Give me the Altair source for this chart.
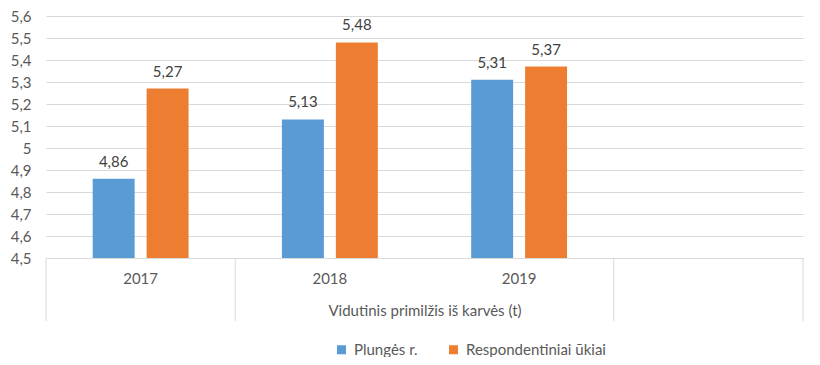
import altair as alt
import pandas as pd

years = ["2017", "2018", "2019"]
slots = ["2017", "2018", "2019", " "]
series = ["Plungės r.", "Respondentiniai ūkiai"]
plunges = [4.86, 5.13, 5.31]
respond = [5.27, 5.48, 5.37]
y_ticks = [4.5, 4.6, 4.7, 4.8, 4.9, 5.0, 5.1, 5.2, 5.3, 5.4, 5.5, 5.6]
axis_title = "Vidutinis primilžis iš karvės (t)"
colors = ["#5B9BD5", "#ED7D31"]
separator_left = ["2017", "2018", " "]
separator_right = [" "]

rows = []
for i, yr in enumerate(years):
    rows.append({"year": yr, "series": series[0], "value": plunges[i]})
    rows.append({"year": yr, "series": series[1], "value": respond[i]})
df = pd.DataFrame(rows)
df["label"] = df["value"].map(lambda v: f"{v:.2f}".replace(".", ","))

W, H = 757, 242
FONT = "Lato"
FS = 15
AX = "#595959"
GRID = "#D9D9D9"

xscale = alt.Scale(domain=slots, paddingInner=0, paddingOuter=0)
xoff = alt.Scale(domain=series, paddingInner=0.2222, paddingOuter=0.8656)
yscale = alt.Scale(domain=[4.5, 5.6], nice=False, zero=False)

x_axis = alt.Axis(title=axis_title, ticks=False, domain=True, domainColor=GRID,
                  domainWidth=1, labelAngle=0, labelPadding=13, labelFont=FONT,
                  labelFontSize=FS, labelColor=AX, titleFont=FONT, titleFontSize=FS,
                  titleColor=AX, titleFontWeight="normal", titleY=52,
                  titleBaseline="middle", grid=False)
y_axis = alt.Axis(title=None, values=y_ticks, ticks=False, domain=False,
                  grid=True, gridColor=GRID, gridWidth=1, labelPadding=15,
                  labelFont=FONT, labelFontSize=FS, labelColor=AX,
                  labelExpr="replace(toString(round(datum.value*10)/10), '.', ',')")

x_enc = alt.X("year:N", scale=xscale, axis=x_axis, sort=slots)
y_enc = alt.Y("value:Q", scale=yscale, axis=y_axis)
xo_enc = alt.XOffset("series:N", scale=xoff, sort=series)

base = alt.Chart(df)

bars = base.mark_bar().encode(
    x=x_enc,
    xOffset=xo_enc,
    y=y_enc,
    y2=alt.datum(4.5),
    color=alt.Color("series:N", sort=series,
                    scale=alt.Scale(domain=series, range=colors),
                    legend=alt.Legend(title=None, orient="none", legendX=288,
                                      legendY=326, direction="horizontal",
                                      symbolType="square", symbolSize=81,
                                      symbolStrokeWidth=0, labelFont=FONT,
                                      labelFontSize=FS, labelColor=AX,
                                      labelOffset=5, columnPadding=28,
                                      padding=0)),
)

labels = base.mark_text(baseline="middle", dy=-17, font=FONT, fontSize=FS,
                        color="#404040").encode(
    x=x_enc, xOffset=xo_enc, y=y_enc, text="label:N")

sep_df = pd.DataFrame({"year": separator_left})
sep_r_df = pd.DataFrame({"year": separator_right})
seps = alt.Chart(sep_df).mark_rule(color=GRID, strokeWidth=1).encode(
    x=alt.X("year:N", scale=xscale, axis=x_axis, sort=slots, bandPosition=0),
    y=alt.value(H), y2=alt.value(H + 63))
seps_r = alt.Chart(sep_r_df).mark_rule(color=GRID, strokeWidth=1).encode(
    x=alt.X("year:N", scale=xscale, axis=x_axis, sort=slots, bandPosition=1),
    y=alt.value(H), y2=alt.value(H + 63))

chart = alt.layer(seps, seps_r, bars, labels).properties(
    width=W, height=H, autosize="none",
    padding={"left": 38, "top": 8, "right": 9, "bottom": 99},
    background="white",
).configure_view(stroke=None)

chart.save("out.html", embed_options={"renderer": "svg", "actions": False})
